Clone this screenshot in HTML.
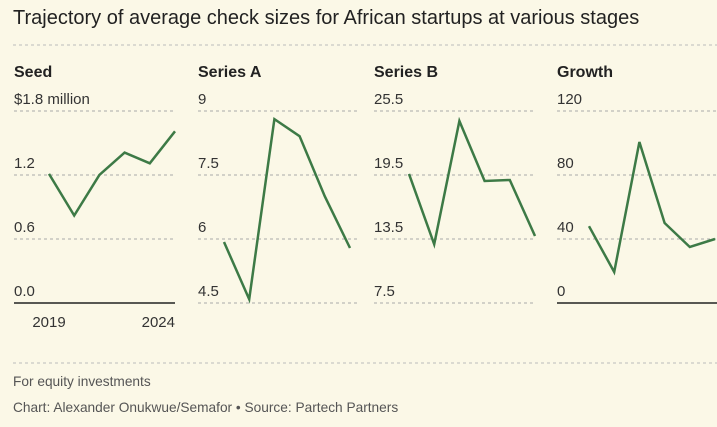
<!DOCTYPE html>
<html><head><meta charset="utf-8"><style>
html,body{margin:0;padding:0;background:#fbf8e7;}
body{width:717px;height:422px;overflow:hidden;font-family:"Liberation Sans",sans-serif;}
</style></head><body>
<svg id="c" width="717" height="422" xmlns="http://www.w3.org/2000/svg">
<rect width="717" height="422" fill="#fbf8e7"/>
<text x="13" y="24" font-size="20" fill="#222">Trajectory of average check sizes for African startups at various stages</text>
<line x1="13" x2="717" y1="45" y2="45" stroke="#bbb" stroke-dasharray="3,3"/>
<line x1="13" x2="717" y1="363" y2="363" stroke="#bbb" stroke-dasharray="3,3"/>
<text x="13" y="386" font-size="13.7" fill="#555">For equity investments</text>
<text x="13" y="412" font-size="13.7" fill="#555">Chart: Alexander Onukwue/Semafor • Source: Partech Partners</text>
<g id="panels"></g>
</svg>
<script>
const years = [2019, 2020, 2021, 2022, 2023, 2024];
const panelTitles = ["Seed", "Series A", "Series B", "Growth"];
const seedValues = [1.21, 0.82, 1.2, 1.41, 1.31, 1.61];
const seriesAValues = [5.93, 4.59, 8.81, 8.41, 7.0, 5.79];
const seriesBValues = [19.6, 13.0, 24.56, 18.94, 19.03, 13.78];
const growthValues = [48, 19.4, 100.6, 50, 35, 40];
const seedTicks = [0, 0.6, 1.2, 1.8];
const seedTickLabels = ["0.0", "0.6", "1.2", "$1.8 million"];
const seriesATicks = [4.5, 6, 7.5, 9];
const seriesATickLabels = ["4.5", "6", "7.5", "9"];
const seriesBTicks = [7.5, 13.5, 19.5, 25.5];
const seriesBTickLabels = ["7.5", "13.5", "19.5", "25.5"];
const growthTicks = [0, 40, 80, 120];
const growthTickLabels = ["0", "40", "80", "120"];
const xTickLabels = ["2019", "2024"];

const NS = "http://www.w3.org/2000/svg";
const g = document.getElementById("panels");
function mk(tag, attrs, txt){const e=document.createElementNS(NS,tag);for(const k in attrs)e.setAttribute(k,attrs[k]);if(txt!==undefined)e.textContent=txt;g.appendChild(e);return e;}
const panels = [
 {vals:seedValues,ticks:seedTicks,labels:seedTickLabels,left:14,x0:49,solid:true,xt:true},
 {vals:seriesAValues,ticks:seriesATicks,labels:seriesATickLabels,left:198,x0:224,solid:false},
 {vals:seriesBValues,ticks:seriesBTicks,labels:seriesBTickLabels,left:374,x0:409,solid:false},
 {vals:growthValues,ticks:growthTicks,labels:growthTickLabels,left:557,x0:589,solid:true}
];
const yTop=111, yBot=303;
panels.forEach((p,pi)=>{
  const lo=p.ticks[0], hi=p.ticks[p.ticks.length-1];
  const y=v=>yBot-(v-lo)/(hi-lo)*(yBot-yTop);
  const x=i=>p.x0+(i)*(175-49)/(years.length-1);
  const right=Math.min(p.left+161,717);
  const t=mk("text",{x:p.left,y:77,"font-size":16,"font-weight":"bold",fill:"#222"},panelTitles[pi]);
  
  
  p.ticks.forEach((tv,ti)=>{
    const yy=y(tv);
    const isBase = ti===0 && p.solid;
    const ln=mk("line",{x1:p.left,x2:right,y1:yy,y2:yy,stroke:isBase?"#222":"#aaa","stroke-width":isBase?1.5:1,"stroke-dasharray":isBase?"none":"3,3"});
    
    
    const lb=mk("text",{x:p.left,y:yy-7,"font-size":15,fill:"#333"},p.labels[ti]);
    
    
  });
  const d=p.vals.map((v,i)=>(i?"L":"M")+x(i).toFixed(1)+","+y(v).toFixed(1)).join(" ");
  const path=mk("path",{d:d,fill:"none",stroke:"#3d7a46","stroke-width":2.5,"stroke-linejoin":"miter"});
  
  
  if(p.xt){
    [0,years.length-1].forEach((i,k)=>{
      const xl=mk("text",{x:k?x(i):x(i),y:327,"font-size":15,fill:"#333","text-anchor":k?"end":"middle"},xTickLabels[k]);
      
      
    });
  }
});
</script>
</body></html>
